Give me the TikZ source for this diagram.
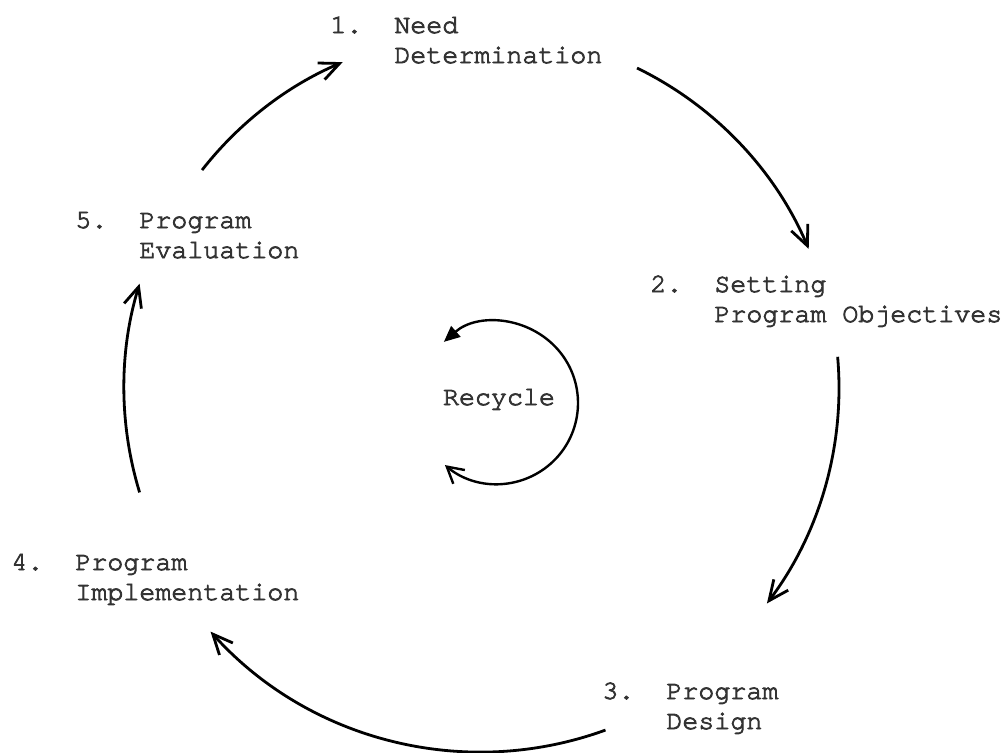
\documentclass[tikz,border=0pt]{standalone}
\usepackage{fontspec}
\setmonofont[FakeBold=3]{TeX Gyre Cursor}
\usepackage{tikz}
\usetikzlibrary{arrows.meta,calc}

\newcommand{\cyclestep}[3]{%
  \begin{tabular}[t]{@{}l@{}}\makebox[2.4em][l]{#1}#2\\\hspace{2.4em}#3\end{tabular}}

\begin{document}
\begin{tikzpicture}[x=0.5pt,y=-0.5pt,
  steplabel/.style={anchor=base west,inner sep=0pt,text=black!80,
    font=\ttfamily\fontsize{13.33}{15}\selectfont},
  cyclearrow/.style={line width=1.4pt,-{Straight Barb[length=10pt,width=9pt]}},
  recyclearrow/.style={line width=1.2pt,
    {Triangle[length=8pt,width=7pt]}-{Straight Barb[length=8pt,width=9pt]}}]
\useasboundingbox (0,0) rectangle (1007,752);
\node[steplabel] (need) at (330,33) {\cyclestep{1.}{Need}{Determination}};
\node[steplabel] (objectives) at (650,292) {\cyclestep{2.}{Setting}{Program Objectives}};
\node[steplabel] (design) at (602,699) {\cyclestep{3.}{Program}{Design}};
\node[steplabel] (implementation) at (11,570) {\cyclestep{4.}{Program}{Implementation}};
\node[steplabel] (evaluation) at (75,228) {\cyclestep{5.}{Program}{Evaluation}};
\node[steplabel,anchor=base] (recycle) at (499,405) {Recycle};
\coordinate (hub) at (481,388);
\coordinate (loop) at (497,403);
\draw[cyclearrow] ($(hub)+(-64:356)$) arc[start angle=-64,end angle=-23,radius=356];
\draw[cyclearrow] ($(hub)+(-5:358)$) arc[start angle=-5,end angle=37,radius=358];
\draw[cyclearrow] ($(hub)+(70:364)$) arc[start angle=70,end angle=138,radius=364];
\draw[cyclearrow] ($(hub)+(163:357)$) arc[start angle=163,end angle=197,radius=357];
\draw[cyclearrow] ($(hub)+(218:354)$) arc[start angle=218,end angle=247,radius=354];
\draw[recyclearrow] ($(loop)+(-131:81)$) arc[start angle=-131,end angle=130,radius=81];
\end{tikzpicture}
\end{document}
